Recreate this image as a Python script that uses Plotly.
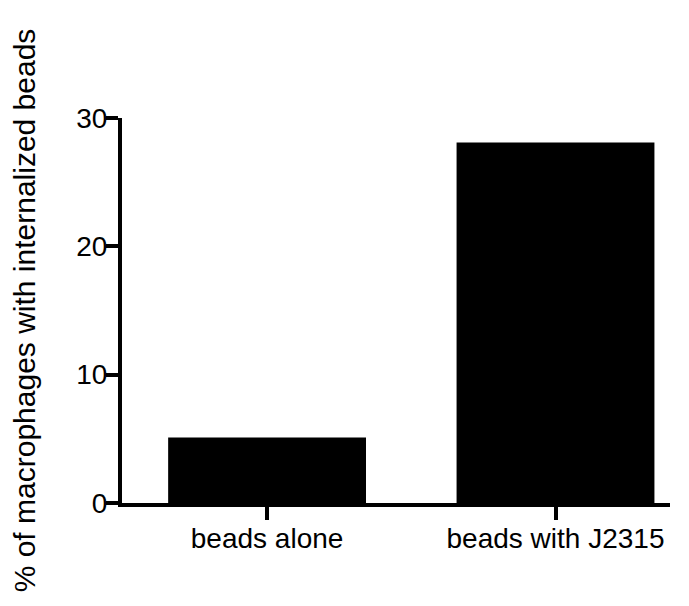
import plotly.graph_objects as go

# Data
categories = ["beads alone", "beads with J2315"]
percent_internalized = [5.1, 28.1]
y_ticks = [0, 10, 20, 30]

FONT = "Arial, Liberation Sans, Helvetica, sans-serif"

fig = go.Figure(go.Bar(
    x=[0, 1],
    y=percent_internalized,
    width=0.686,
    marker=dict(color="black", line=dict(color="black", width=0)),
))

# page body has an 8px margin, so the figure is sized to fit the window
fig.update_layout(
    width=681,
    height=598,
    margin=dict(l=114, r=19, t=110, b=103, autoexpand=False),
    plot_bgcolor="white",
    paper_bgcolor="white",
    showlegend=False,
    font=dict(family=FONT, color="black"),
    xaxis=dict(
        range=[-0.503, 1.397],
        tickvals=[0, 1],
        ticktext=categories,
        showline=True,
        linecolor="black",
        linewidth=4,
        ticks="outside",
        ticklen=13,
        tickwidth=4,
        tickcolor="black",
        ticklabelstandoff=-6,
        showgrid=False,
        zeroline=False,
        tickfont=dict(size=28, family=FONT),
    ),
    yaxis=dict(
        range=[0, 30],
        tickvals=y_ticks,
        showline=True,
        linecolor="black",
        linewidth=4,
        ticks="outside",
        ticklen=12,
        tickwidth=4,
        tickcolor="black",
        ticklabelstandoff=-7,
        showgrid=False,
        zeroline=False,
        tickfont=dict(size=28, family=FONT),
        title=dict(
            text="% of macrophages with internalized beads",
            font=dict(size=30, family=FONT),
            standoff=38,
        ),
    ),
)

fig.write_html("out.html")
